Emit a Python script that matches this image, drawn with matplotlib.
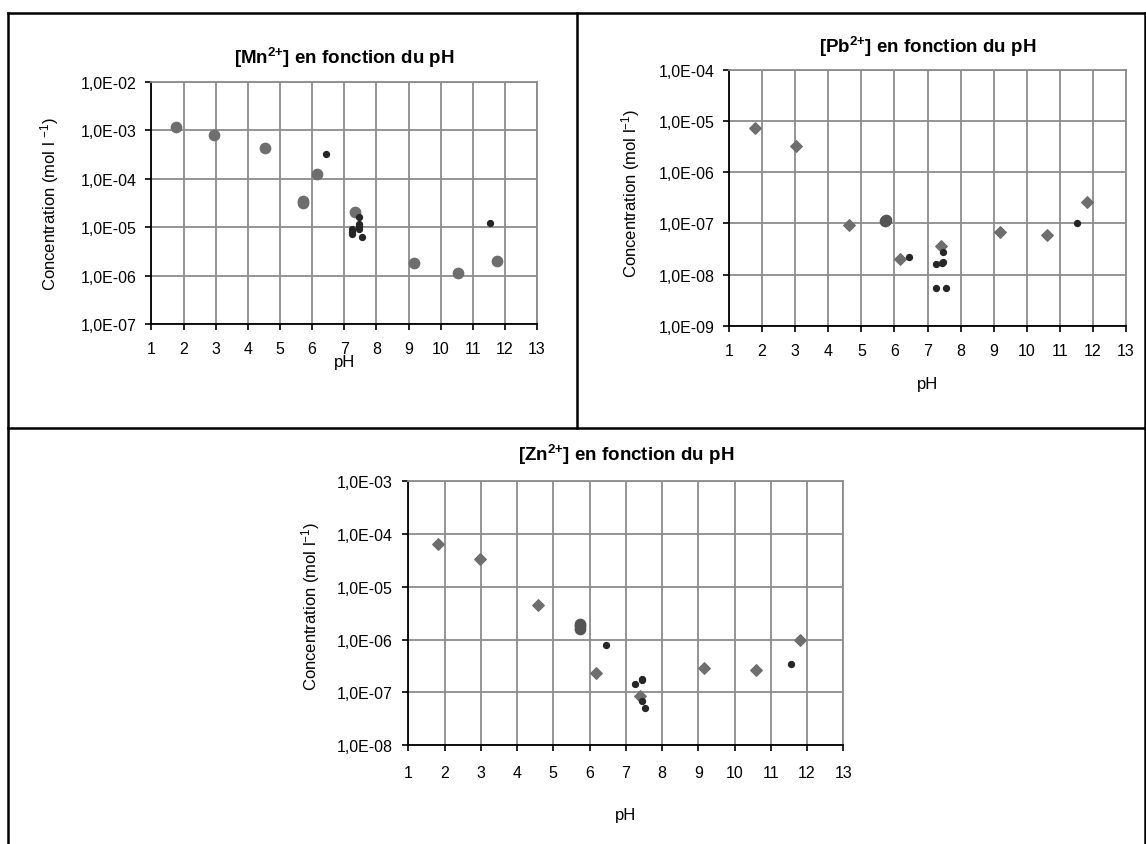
import math
import matplotlib
matplotlib.use("Agg")
import matplotlib.pyplot as plt
from matplotlib.lines import Line2D
from matplotlib.ticker import FixedLocator, FuncFormatter

plt.rcParams['font.family'] = ['Liberation Sans', 'DejaVu Sans']
plt.rcParams['mathtext.fontset'] = 'custom'
plt.rcParams['mathtext.rm'] = 'Liberation Sans'
plt.rcParams['mathtext.it'] = 'Liberation Sans:italic'
plt.rcParams['mathtext.bf'] = 'Liberation Sans:bold'

W, H = 1146, 845

# Mn2+ : big grey circles, small dark dots
mn_ph = [1.75, 2.95, 4.52, 5.72, 5.72, 6.14, 7.35, 9.17, 10.54, 11.75]
mn_c = [1.17e-3, 7.9e-4, 4.3e-4, 3.4e-5, 3.1e-5, 1.23e-4, 2.1e-5, 1.8e-6, 1.12e-6, 2.0e-6]
mn_dot_ph = [6.44, 7.45, 7.45, 7.45, 7.45, 7.24, 7.24, 7.24, 7.55, 11.54]
mn_dot_c = [3.2e-4, 1.6e-5, 1.17e-5, 1.05e-5, 9.1e-6, 9.1e-6, 8.1e-6, 7.1e-6, 6.2e-6, 1.24e-5]

# Pb2+ : grey diamonds, one big circle, small dark dots
pb_ph = [1.78, 3.02, 4.63, 6.18, 7.42, 9.19, 10.61, 11.83]
pb_c = [7.3e-6, 3.2e-6, 9.4e-8, 2.0e-8, 3.6e-8, 6.9e-8, 6.0e-8, 2.6e-7]
pb_big_ph = [5.75, 5.72]
pb_big_c = [1.15e-7, 1.12e-7]
pb_dot_ph = [6.43, 7.47, 7.47, 7.43, 7.27, 7.27, 7.56, 11.52]
pb_dot_c = [2.2e-8, 2.7e-8, 1.74e-8, 1.7e-8, 1.6e-8, 5.5e-9, 5.5e-9, 1.02e-7]

# Zn2+ : grey diamonds, big circles, small dark dots
zn_ph = [1.83, 2.98, 4.59, 6.19, 7.39, 9.17, 10.58, 11.80]
zn_c = [6.4e-5, 3.3e-5, 4.5e-6, 2.3e-7, 8.5e-8, 2.9e-7, 2.7e-7, 9.8e-7]
zn_big_ph = [5.75, 5.75, 5.75]
zn_big_c = [1.95e-6, 1.8e-6, 1.6e-6]
zn_dot_ph = [6.46, 7.44, 7.44, 7.24, 7.44, 7.54, 11.55]
zn_dot_c = [7.8e-7, 1.8e-7, 1.7e-7, 1.45e-7, 6.8e-8, 5.0e-8, 3.4e-7]

ph_ticks = list(range(1, 14))

GREY = '#6e6e6e'
DARK = '#262626'


def box(x0, y0, x1, y1):
    # pixel box (top-left origin) -> figure fraction rect
    return [x0 / W, 1 - y1 / H, (x1 - x0) / W, (y1 - y0) / H]


def sci_fmt(v, pos):
    e = int(round(math.log10(v)))
    return "1,0E%s%02d" % ('-' if e < 0 else '+', abs(e))


def setup(ax, ylo, yhi, xpad=8, ypad=6):
    ax.set_yscale('log')
    ax.set_xlim(1, 13)
    ax.set_ylim(ylo, yhi)
    ax.xaxis.set_major_locator(FixedLocator(ph_ticks))
    ax.yaxis.set_major_locator(FixedLocator([10.0 ** k for k in range(-12, 0)]))
    ax.yaxis.set_minor_locator(FixedLocator([]))
    ax.yaxis.set_major_formatter(FuncFormatter(sci_fmt))
    ax.grid(True, color='#8c8c8c', linewidth=1.3)
    ax.set_axisbelow(True)
    for s in ['top', 'right']:
        ax.spines[s].set_color('#8c8c8c')
        ax.spines[s].set_linewidth(1.3)
    for s in ['left', 'bottom']:
        ax.spines[s].set_color('black')
        ax.spines[s].set_linewidth(1.3)
    ax.tick_params(axis='both', direction='out', length=4.5, width=1.2,
                   labelsize=11.5)
    ax.tick_params(axis='x', pad=xpad)
    ax.tick_params(axis='y', pad=ypad)


fig = plt.figure(figsize=(W / 100, H / 100), dpi=100)

# frame lines around the three panels
frame = [((8, 14), (1145, 14)), ((8, 14), (8, 845)), ((1145, 14), (1145, 845)),
         ((577, 14), (577, 429)), ((8, 429), (1145, 429))]
for (xa, ya), (xb, yb) in frame:
    fig.add_artist(Line2D([xa / W, xb / W], [1 - ya / H, 1 - yb / H],
                          color='black', linewidth=1.8))

TFS = 13.5
LFS = 12

# Mn panel
ax1 = fig.add_axes(box(151.5, 83, 537, 325))
setup(ax1, 1e-7, 1e-2)
ax1.scatter(mn_ph, mn_c, s=55, color=GREY, zorder=3)
ax1.scatter(mn_dot_ph, mn_dot_c, s=18, color=DARK, zorder=4)
ax1.set_title(r"[Mn$^{\mathbf{2}\mathbf{+}}$] en fonction du pH", fontsize=TFS,
              fontweight='bold', pad=14)
ax1.set_ylabel("Concentration (mol l $^{-1}$)", fontsize=LFS)
ax1.yaxis.set_label_coords(-0.234, 0.5)
ax1.set_xlabel("pH", fontsize=LFS)
ax1.xaxis.set_label_coords(0.5, -0.125)

# Pb panel
ax2 = fig.add_axes(box(729, 70.7, 1126, 326.7))
setup(ax2, 1e-9, 1e-4)
ax2.scatter(pb_ph, pb_c, s=34, marker='D', color=GREY, zorder=3)
ax2.scatter(pb_big_ph, pb_big_c, s=55, color='#555555', zorder=3)
ax2.scatter(pb_dot_ph, pb_dot_c, s=18, color=DARK, zorder=4)
ax2.set_title(r"[Pb$^{\mathbf{2}\mathbf{+}}$] en fonction du pH", fontsize=TFS,
              fontweight='bold', pad=13)
ax2.set_ylabel("Concentration (mol l$^{-1}$)", fontsize=LFS)
ax2.yaxis.set_label_coords(-0.219, 0.52)
ax2.set_xlabel("pH", fontsize=LFS)
ax2.xaxis.set_label_coords(0.5, -0.196)

# Zn panel
ax3 = fig.add_axes(box(408.3, 482.3, 843.3, 746))
setup(ax3, 1e-8, 1e-3, xpad=10, ypad=7)
ax3.scatter(zn_ph, zn_c, s=34, marker='D', color=GREY, zorder=3)
ax3.scatter(zn_big_ph, zn_big_c, s=55, color='#555555', zorder=3)
ax3.scatter(zn_dot_ph, zn_dot_c, s=18, color=DARK, zorder=4)
ax3.set_title(r"[Zn$^{\mathbf{2}\mathbf{+}}$] en fonction du pH", fontsize=TFS,
              fontweight='bold', pad=15)
ax3.set_ylabel("Concentration (mol l$^{-1}$)", fontsize=LFS)
ax3.yaxis.set_label_coords(-0.198, 0.53)
ax3.set_xlabel("pH", fontsize=LFS)
ax3.xaxis.set_label_coords(0.5, -0.235)

fig.savefig("out.png", dpi=100, facecolor='white')
